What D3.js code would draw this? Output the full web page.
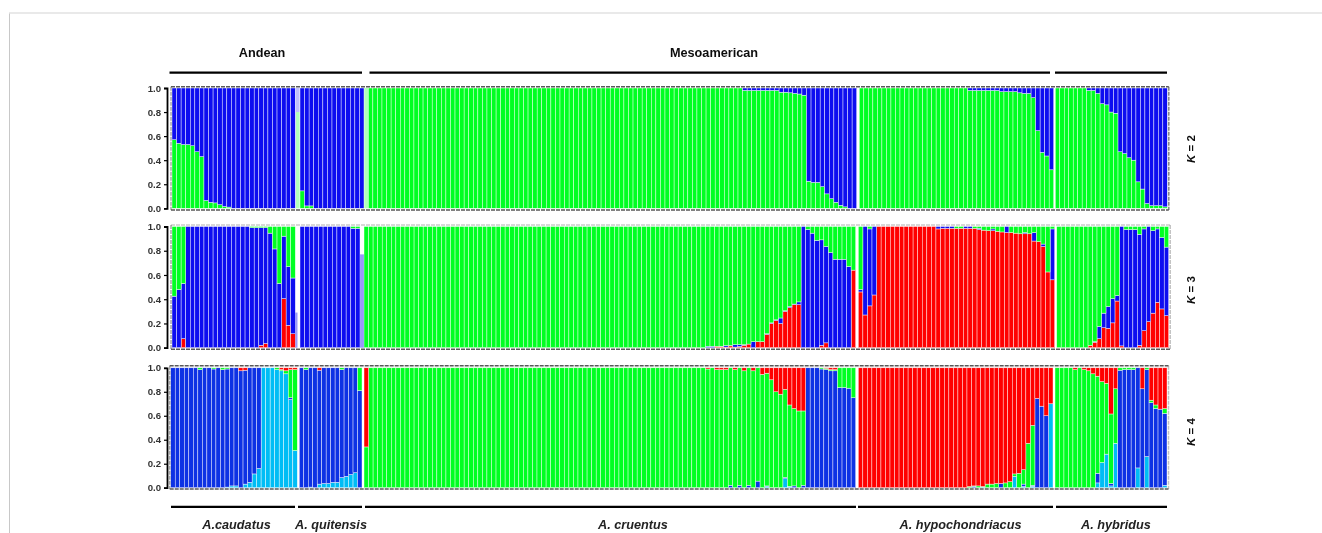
<!DOCTYPE html>
<html>
<head>
<meta charset="utf-8">
<script src="https://cdnjs.cloudflare.com/ajax/libs/d3/7.8.5/d3.min.js"></script>
<style>
html, body { margin: 0; padding: 0; background: #fff; }
svg { display: block; font-family: "Liberation Sans", Arial, sans-serif; }
</style>
</head>
<body>
<div id="chart"></div>
<script>
// every array holds the upper edge of a colour in each bar
var tickValues = [0, 0.2, 0.4, 0.6, 0.8, 1];
var regionLabels = ["Andean", "Mesoamerican"];
var speciesLabels = ["A.caudatus", "A. quitensis", "A. cruentus", "A. hypochondriacus", "A. hybridus"];

// K = 2
var k2GreenCaudatus = [.57,.54,.53,.53,.52,.47,.43,.065,.05,.045,.03,.015,.01,0,0,0,0,0,0,0,0,0,0,0,0,0,0];
var k2GreenQuitensis = [.145,.02,.02,0,0,0,0,0,0,0,0,0,0,0];
var k2GreenCruentus = [
  1,1,1,1,1,1,1,1,1,1, 1,1,1,1,1,1,1,1,1,1, 1,1,1,1,1,1,1,1,1,1, 1,1,1,1,1,1,1,1,1,1,
  1,1,1,1,1,1,1,1,1,1, 1,1,1,1,1,1,1,1,1,1, 1,1,1,1,1,1,1,1,1,1, 1,1,1,1,1,1,1,1,1,1, 1,1,
  .98,.98,.98,.98,.98,.98,.98,.98,.965,.965,.96,.955,.95,.94,
  .225,.215,.215,.18,.12,.08,.05,.025,.012,0,0];
var k2GreenHypochondriacus = [
  1,1,1,1,1,1,1,1,1,1, 1,1,1,1,1,1,1,1,1,1, 1,1,1,1,
  .98,.98,.98,.98,.98,.98,.98,.97,.97,.97,.97,.96,.955,.955,.92,.645,.465,.435,.32];
var k2GreenHybridus = [1,1,1,1,1,1,1,.98,.98,.955,.87,.86,.80,.79,.47,.455,.42,.40,.22,.16,.04,.022,.022,.022,.012];
var k2PaleGreen = [.8, 1];

// K = 3
var k3RedCaudatus = [0,0,.075,0,0,0,0,0,0,0,0,0,0,0,0,0,0,0,0,.02,.035,0,0,0,.405,.185,.115];
var k3BlueCaudatus = [.425,.48,.53,1,1,1,1,1,1,1,1,1,1,1,1,1,1,.99,.99,.99,.99,.945,.815,.53,.92,.67,.575];
var k3RedQuitensis = [0,0,0,0,0,0,0,0,0,0,0,0,0];
var k3BlueQuitensis = [1,1,1,1,1,1,1,1,1,1,1,.985,.985];
var k3RedCruentus = [
  0,0,0,0,0,0,0,0,0,0, 0,0,0,0,0,0,0,0,0,0, 0,0,0,0,0,0,0,0,0,0, 0,0,0,0,0,0,0,0,0,0,
  0,0,0,0,0,0,0,0,0,0, 0,0,0,0,0,0,0,0,0,0, 0,0,0,0,0,0,0,0,0,0, 0,0,0,0,0,
  0,0,.012,.01,.005,.015,.005,.01,.02,.03,0,.05,.05,.11,.2,.225,.2,.3,.33,.355,.355,
  0,0,0,0,.02,.04,0,0,0,0,0,.64];
var k3BlueCruentus = [
  0,0,0,0,0,0,0,0,0,0, 0,0,0,0,0,0,0,0,0,0, 0,0,0,0,0,0,0,0,0,0, 0,0,0,0,0,0,0,0,0,0,
  0,0,0,0,0,0,0,0,0,0, 0,0,0,0,0,0,0,0,0,0, 0,0,0,0,0,0,0,0,0,0, 0,0,0,0,0,
  .012,.012,.012,.012,.018,.018,.025,.025,.025,.03,.05,.05,.05,.115,.205,.23,.245,.305,.34,.36,.378,
  1,.975,.945,.885,.89,.835,.785,.73,.73,.73,.67,.64];
var k3RedHypochondriacus = [
  .46,.27,.345,.435,1,1,1,1,1,1, 1,1,1,1,1,1,1,.98,.985,.985, .985,.985,.985,.985,.985,.985,.975,.97,.965,.965,
  .96,.955,.95,.95,.945,.94,.94,.94,.88,.875,.835,.625,.56];
var k3BlueHypochondriacus = [
  .48,1,.98,1,1,1,1,1,1,1, 1,1,1,1,1,1,1,1,1,1, 1,.985,.985,1,1,.985,.985,.97,.965,.98,
  .96,.955,1,.95,.945,.94,.95,.94,.95,.875,.855,.625,.98];
var k3RedHybridus = [0,0,0,0,0,0,0,.02,.045,.075,.165,.16,.205,.385,.015,0,0,0,.02,.14,.215,.285,.375,.32,.265];
var k3BlueHybridus = [0,0,0,0,0,0,0,.02,.05,.175,.285,.34,.405,.43,1,.975,.975,.975,.935,.98,1,.965,.98,.91,.83];
var k3PaleBlue = [.29, .77];

// K = 4
var k4SkyCaudatus = [0,0,0,0,0,0,0,0,0,0,0,0,.005,.015,.015,0,.03,.045,.115,.16,1,1,1,.985,.975,.95,.735,.31];
var k4BlueCaudatus = [1,1,1,1,1,1,.985,1,1,.99,1,.985,.99,1,1,.975,.98,1,1,1,1,1,1,.985,.975,.95,.75,.31];
var k4GreenCaudatus = [1,1,1,1,1,1,1,1,1,1,1,1,1,1,1,.975,.98,1,1,1,1,1,1,1,.985,.975,.985,.985];
var k4SkyQuitensis = [0,0,.005,0,.03,.035,.035,.045,.045,.085,.095,.11,.125,0];
var k4BlueQuitensis = [1,.985,1,1,.98,1,1,1,1,.985,1,1,1,.81];
var k4GreenQuitensis = [1,1,1,1,.98,1,1,1,1,1,1,1,1,1];
var k4SkyCruentus = [
  0,0,0,0,0,0,0,0,0,0, 0,0,0,0,0,0,0,0,0,0, 0,0,0,0,0,0,0,0,0,0, 0,0,0,0,0,0,0,0,0,0,
  0,0,0,0,0,0,0,0,0,0, 0,0,0,0,0,0,0,0,0,0, 0,0,0,0,0,0,0,0,0,0, 0,0,0,0,
  0,0,0,0,0,0,0,0,0,0,0,0,0,0,.01,0,0,0,.075,.012,0,0,0,
  0,0,0,0,0,0,0,0,0,0,0];
var k4BlueCruentus = [
  0,0,0,0,0,0,0,0,0,0, 0,0,0,0,0,0,0,0,0,0, 0,0,0,0,0,0,0,0,0,0, 0,0,0,0,0,0,0,0,0,0,
  0,0,0,0,0,0,0,0,0,0, 0,0,0,0,0,0,0,0,0,0, 0,0,0,0,0,0,0,0,0,0, 0,0,0,0,
  0,0,0,0,0,0,.02,0,.02,0,.02,0,.055,0,.015,0,0,0,.085,.012,.015,0,.02,
  1,1,1,.99,.985,.975,.975,.835,.835,.83,.75];
var k4GreenCruentus = [
  .34,1,1,1,1,1,1,1,1,1, 1,1,1,1,1,1,1,1,1,1, 1,1,1,1,1,1,1,1,1,1, 1,1,1,1,1,1,1,1,1,1,
  1,1,1,1,1,1,1,1,1,1, 1,1,1,1,1,1,1,1,1,1, 1,1,1,1,1,1,1,1,1,1, 1,1,1,1,
  1,.99,1,.985,.985,.985,1,.985,1,.975,1,.975,1,.945,.955,.90,.80,.78,.82,.69,.66,.64,.64,
  1,1,1,1,.995,.985,.985,1,1,1,1];
var k4SkyHypochondriacus = [
  0,0,0,0,0,0,0,0,0,0, 0,0,0,0,0,0,0,0,0,0, 0,0,0,0,
  0,0,0,.005,0,0,0,0,0,0,.095,0,.01,0,.012,0,0,0,.70];
var k4BlueHypochondriacus = [
  0,0,0,0,0,0,0,0,0,0, 0,0,0,0,0,0,0,0,0,0, 0,0,0,0,
  0,.012,0,.005,0,0,0,.035,0,0,.095,0,.03,0,.02,.745,.68,.60,.70];
var k4GreenHypochondriacus = [
  0,0,0,0,0,0,0,0,0,0, 0,0,0,0,0,0,0,0,0,0, 0,0,0,0,
  .01,.015,.015,.01,.03,.03,.035,.035,.04,.05,.115,.12,.15,.37,.52,.745,.68,.60,.70];
var k4SkyHybridus = [0,0,0,0,0,0,0,0,0,.04,.21,.28,.015,.37,0,0,0,0,.165,0,.26,0,0,0,.02];
var k4BlueHybridus = [0,0,0,0,0,0,0,0,0,.12,.21,.28,.035,.37,.98,.985,.985,.985,1,.825,.985,.71,.66,.655,.62];
var k4GreenHybridus = [1,1,1,1,.985,1,.985,.975,.95,.93,.885,.87,.615,.825,1,1,1,1,1,.825,1,.73,.69,.655,.66];

var canvasWidth = 1322;
var canvasHeight = 533;

var green = "#00ff22";
var blue = "#0f0ff0";
var darkBlue = "#1030e4";
var red = "#ff0000";
var sky = "#05bdf5";

var panels = [
  { k: 2, yTop: 88, yBottom: 208.3, top: blue, frameTop: 86.8, frameBottom: 210, labelY: 149,
    ranges: [[172, 295.3], [300, 364], [368.3, 856.7], [859.3, 1053.7], [1055.3, 1167.3]],
    layers: [{ color: green, edges: [k2GreenCaudatus, k2GreenQuitensis, k2GreenCruentus, k2GreenHypochondriacus, k2GreenHybridus] }] },
  { k: 3, yTop: 226.5, yBottom: 347.7, top: green, frameTop: 225, frameBottom: 349.3, labelY: 290,
    ranges: [[172, 295.3], [300, 360], [364, 855.7], [858.3, 1054.7], [1056.7, 1168.7]],
    layers: [
      { color: red, edges: [k3RedCaudatus, k3RedQuitensis, k3RedCruentus, k3RedHypochondriacus, k3RedHybridus] },
      { color: blue, edges: [k3BlueCaudatus, k3BlueQuitensis, k3BlueCruentus, k3BlueHypochondriacus, k3BlueHybridus] }] },
  { k: 4, yTop: 367.8, yBottom: 487.7, top: red, frameTop: 365.7, frameBottom: 489, labelY: 432,
    ranges: [[170.7, 297.3], [299.3, 362], [364, 855.7], [858.3, 1053], [1055, 1167]],
    layers: [
      { color: sky, edges: [k4SkyCaudatus, k4SkyQuitensis, k4SkyCruentus, k4SkyHypochondriacus, k4SkyHybridus] },
      { color: darkBlue, edges: [k4BlueCaudatus, k4BlueQuitensis, k4BlueCruentus, k4BlueHypochondriacus, k4BlueHybridus] },
      { color: green, edges: [k4GreenCaudatus, k4GreenQuitensis, k4GreenCruentus, k4GreenHypochondriacus, k4GreenHybridus] }] }
];

var svg = d3.select("#chart").append("svg")
    .attr("width", canvasWidth)
    .attr("height", canvasHeight);

svg.append("defs").append("filter")
    .attr("id", "soft")
    .append("feGaussianBlur")
    .attr("stdDeviation", 0.3);

// faint page frame of the screenshot
svg.append("path")
    .attr("d", "M9.5,533V13")
    .attr("fill", "none")
    .attr("stroke", "#c8c8c8");
svg.append("path")
    .attr("d", "M9,13H1322")
    .attr("fill", "none")
    .attr("stroke", "#e2e2e2")
    .attr("stroke-width", 1.5);

var chart = svg.append("g").attr("filter", "url(#soft)");

function drawColumn(g, xScale, yScale, lower, upper, color) {
    g.append("g").selectAll("rect")
        .data(upper)
        .join("rect")
        .attr("x", function(d, i) { return xScale(i); })
        .attr("width", xScale.bandwidth())
        .attr("y", function(d) { return yScale(d); })
        .attr("height", function(d, i) { return Math.max(0, yScale(lower ? lower[i] : 0) - yScale(d)); })
        .attr("fill", color)
        .attr("stroke", "#fff")
        .attr("stroke-opacity", 0.85)
        .attr("stroke-width", function(d, i) { return d > (lower ? lower[i] : 0) ? 0.5 : 0; });
}

panels.forEach(function(panel) {
    var g = chart.append("g");
    var yScale = d3.scaleLinear().domain([0, 1]).range([panel.yBottom, panel.yTop]);

    panel.ranges.forEach(function(range, s) {
        var lastEdges = panel.layers[panel.layers.length - 1].edges[s];
        var xScale = d3.scaleBand().domain(d3.range(lastEdges.length)).range(range);

        panel.layers.forEach(function(layer, l) {
            var lower = l === 0 ? null : panel.layers[l - 1].edges[s];
            drawColumn(g, xScale, yScale, lower, layer.edges[s], layer.color);
        });
        drawColumn(g, xScale, yScale, lastEdges, lastEdges.map(function() { return 1; }), panel.top);
    });

    // narrow washed-out bars at the group gaps
    if (panel.k === 2) {
        [[296, 299.6], [364.3, 368]].forEach(function(gap, i) {
            g.append("rect").attr("x", gap[0]).attr("width", gap[1] - gap[0])
                .attr("y", yScale(k2PaleGreen[i])).attr("height", yScale(0) - yScale(k2PaleGreen[i]))
                .attr("fill", green).attr("opacity", 0.3);
            g.append("rect").attr("x", gap[0]).attr("width", gap[1] - gap[0])
                .attr("y", yScale(1)).attr("height", yScale(k2PaleGreen[i]) - yScale(1))
                .attr("fill", blue).attr("opacity", 0.25);
        });
    }
    if (panel.k === 3) {
        [[295.3, 297.5], [360, 364]].forEach(function(gap, i) {
            g.append("rect").attr("x", gap[0]).attr("width", gap[1] - gap[0])
                .attr("y", yScale(k3PaleBlue[i])).attr("height", yScale(0) - yScale(k3PaleBlue[i]))
                .attr("fill", blue).attr("opacity", 0.4);
        });
    }

    // dashed marks along the panel edges
    var x0 = panel.ranges[0][0] - 1;
    var x1 = panel.ranges[4][1] + 1.5;
    var frame = [
        [x0, panel.frameTop, x1, panel.frameTop, panel.k === 3 ? 0.3 : 0.95],
        [x0, panel.frameBottom, x1, panel.frameBottom, 0.95],
        [x0, panel.frameTop, x0, panel.frameBottom, 0.5],
        [x1, panel.frameTop, x1, panel.frameBottom, panel.k === 2 ? 0.7 : 0.35]
    ];
    g.append("g").selectAll("line")
        .data(frame)
        .join("line")
        .attr("x1", function(d) { return d[0]; })
        .attr("y1", function(d) { return d[1]; })
        .attr("x2", function(d) { return d[2]; })
        .attr("y2", function(d) { return d[3]; })
        .attr("stroke", "#505050")
        .attr("stroke-width", 1.5)
        .attr("stroke-dasharray", "4 1")
        .attr("opacity", function(d) { return d[4]; });

    var axis = g.append("g")
        .attr("transform", "translate(167,0)")
        .call(d3.axisLeft(yScale).tickValues(tickValues).tickFormat(d3.format(".1f")).tickSize(3).tickPadding(3));
    axis.select(".domain").attr("stroke", "#000").attr("stroke-width", 1.8);
    axis.selectAll(".tick line").attr("stroke", "#000").attr("stroke-width", 1.2);
    axis.selectAll("text")
        .attr("font-family", "Liberation Sans")
        .attr("font-size", "9.6px")
        .attr("font-weight", "bold")
        .attr("fill", "#333");

    var kLabel = g.append("text")
        .attr("transform", "translate(1195," + panel.labelY + ") rotate(-90)")
        .attr("text-anchor", "middle")
        .attr("font-size", "11.5px")
        .attr("font-weight", "bold")
        .attr("fill", "#111");
    kLabel.append("tspan").attr("font-style", "italic").text("K");
    kLabel.append("tspan").text(" = " + panel.k);
});

// group rules and names
var headerRules = [[169.5, 362], [369.5, 1050], [1055, 1167]];
var footerRules = [[171, 295], [298, 362], [365, 856], [858, 1053], [1056, 1167]];

chart.append("g").selectAll("line")
    .data(headerRules)
    .join("line")
    .attr("x1", function(d) { return d[0]; })
    .attr("x2", function(d) { return d[1]; })
    .attr("y1", 72.6)
    .attr("y2", 72.6)
    .attr("stroke", "#000")
    .attr("stroke-width", 2.2);

chart.append("g").selectAll("line")
    .data(footerRules)
    .join("line")
    .attr("x1", function(d) { return d[0]; })
    .attr("x2", function(d) { return d[1]; })
    .attr("y1", 506.8)
    .attr("y2", 506.8)
    .attr("stroke", "#000")
    .attr("stroke-width", 2.2);

chart.append("g").selectAll("text")
    .data(regionLabels)
    .join("text")
    .attr("x", function(d, i) { return [262, 714][i]; })
    .attr("y", 57.3)
    .attr("text-anchor", "middle")
    .attr("font-size", "12.7px")
    .attr("font-weight", "bold")
    .attr("fill", "#111")
    .text(function(d) { return d; });

chart.append("g").selectAll("text")
    .data(speciesLabels)
    .join("text")
    .attr("x", function(d, i) { return [236.5, 331, 633, 960.5, 1116][i]; })
    .attr("y", 528.5)
    .attr("text-anchor", "middle")
    .attr("font-size", "12.7px")
    .attr("font-weight", "bold")
    .attr("font-style", "italic")
    .attr("fill", "#222")
    .text(function(d) { return d; });
</script>
</body>
</html>
